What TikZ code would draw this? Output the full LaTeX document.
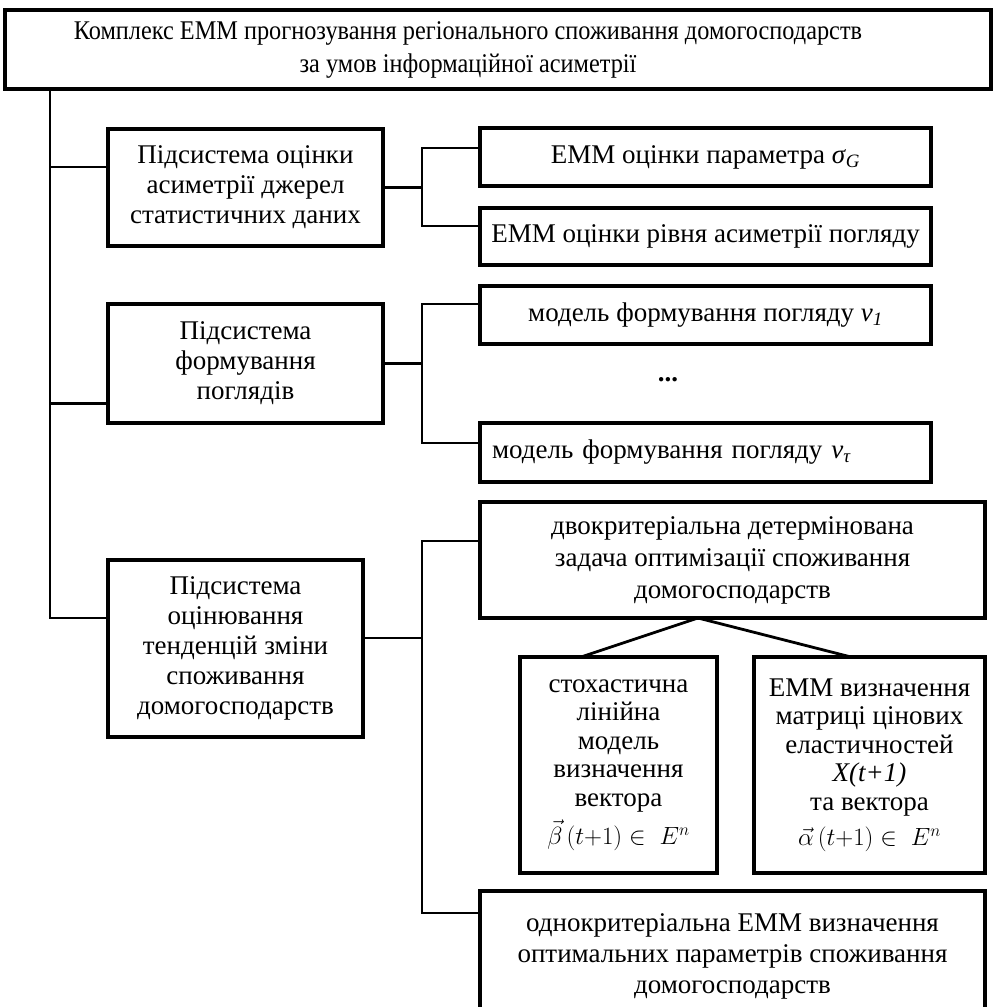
\documentclass[tikz,border=0pt]{standalone}
\usepackage{fontspec}
\setmainfont{Liberation Serif}
\newfontfamily\narrowserif{Liberation Serif}[FakeStretch=0.9]
\usepackage{tikz}
\usetikzlibrary{positioning}

\begin{document}
\begin{tikzpicture}[x=1pt, y=-1pt,
  box/.style={draw, line width=3.6pt, anchor=north west, inner sep=0pt, outer sep=0pt,
    align=center, font=\fontsize{27}{30}\selectfont},
  wire/.style={line width=2.8pt, line cap=rect}]
  \useasboundingbox (0,0) rectangle (1000,1007);

  \node[box, minimum width=986pt, minimum height=79pt, font=\narrowserif\fontsize{27}{33}\selectfont] (top) at (5,10)
    {Комплекс ЕММ прогнозування регіонального споживання домогосподарств\hspace*{60pt}\\за умов інформаційної асиметрії\hspace*{60pt}};

  % subsystems
  \node[box, minimum width=275pt, minimum height=117pt] (sub1) at (108,129) {Підсистема оцінки\\асиметрії джерел\\статистичних даних};
  \node[box, minimum width=275pt, minimum height=119pt] (sub2) at (108,304) {Підсистема\\формування\\поглядів};
  \node[box, minimum width=255pt, minimum height=177pt] (sub3) at (108,560) {Підсистема\\оцінювання\\тенденцій зміни\\споживання\\домогосподарств};

  % models
  \node[box, minimum width=451pt, minimum height=58pt] (em1) at (480,128) {ЕММ оцінки параметра \textit{σ}\textsubscript{\textit{G}}};
  \node[box, minimum width=451pt, minimum height=57pt, below=22pt of em1] (em2) {ЕММ оцінки рівня асиметрії погляду};
  \node[box, minimum width=451pt, minimum height=58pt, below=21pt of em2] (mv1) {модель формування погляду \textit{v}\textsubscript{\textit{1}}};
  \node[font=\bfseries\fontsize{27}{30}\selectfont] (dots) at (668,380) {...};
  \node[box, minimum width=451pt, minimum height=59pt, below=79pt of mv1, text width=427pt, align=left, inner xsep=12pt] (mvt)
    {модель формування погляду \textit{v}\textsubscript{\textit{τ}}};
  \node[box, minimum width=505pt, minimum height=116pt, font=\fontsize{27}{32}\selectfont] (opt2) at (480,502)
    {двокритеріальна детермінована\\задача оптимізації споживання\\домогосподарств};
  \node[box, minimum width=197pt, minimum height=216pt, font=\fontsize{27}{28.5}\selectfont] (stoch) at (520,657)
    {стохастична\\лінійна\\модель\\визначення\\вектора\\[7pt]$\vec{\beta}\,(t{+}1)\in\;E^{n}$};
  \node[box, minimum width=231pt, minimum height=216pt, font=\fontsize{27}{28.5}\selectfont] (elast) at (754,657)
    {ЕММ визначення\\матриці цінових\\еластичностей\\\textit{X(t+1)}\\та вектора\\[7pt]$\vec{\alpha}\,(t{+}1)\in\;E^{n}$};
  \node[box, minimum width=505pt, minimum height=131pt, font=\fontsize{27}{31}\selectfont] (opt1) at (480,891)
    {однокритеріальна ЕММ визначення\\оптимальних параметрів споживання\\домогосподарств};

  % trunk
  \coordinate (bus) at (50,618);
  \coordinate (in1) at ([yshift=20.5pt]sub1.west);
  \coordinate (in2) at ([yshift=-40pt]sub2.west);
  \draw[wire] (top.south -| bus) -- (bus) -- (bus -| sub3.west);
  \draw[wire] (in1 -| bus) -- (in1);
  \draw[wire] (in2 -| bus) -- (in2);

  % brackets
  \coordinate (k1) at (422,148);
  \coordinate (k1b) at (422,226);
  \draw[wire] (sub1.east) -- (sub1.east -| k1);
  \draw[wire] (k1 -| em1.west) -- (k1) -- (k1b) -- (k1b -| em2.west);

  \coordinate (k2) at (422,304);
  \coordinate (k2b) at (422,443);
  \draw[wire] (sub2.east) -- (sub2.east -| k2);
  \draw[wire] (k2 -| mv1.west) -- (k2) -- (k2b) -- (k2b -| mvt.west);

  \coordinate (k3) at (422,541);
  \coordinate (k3b) at (422,913);
  \coordinate (out3) at ([yshift=10.5pt]sub3.east);
  \draw[wire] (out3) -- (out3 -| k3);
  \draw[wire] (k3 -| opt2.west) -- (k3) -- (k3b) -- (k3b -| opt1.west);

  \draw[wire] ([xshift=-34.5pt]opt2.south) -- ([xshift=-37.5pt]stoch.north);
  \draw[wire] ([xshift=-34.5pt]opt2.south) -- ([xshift=-18.5pt]elast.north);
\end{tikzpicture}
\end{document}
